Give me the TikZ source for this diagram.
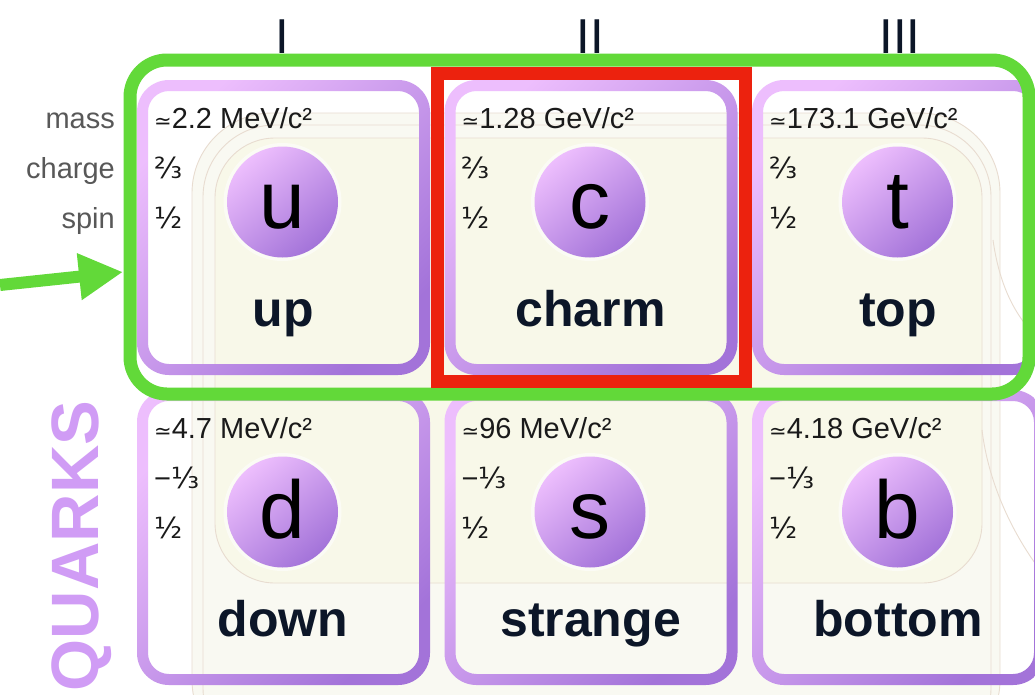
\documentclass[tikz,border=0pt]{standalone}
\usepackage{fontspec}
\setmainfont{Liberation Sans}
\newfontfamily\dv{DejaVu Sans}
\usetikzlibrary{arrows.meta}
\definecolor{grn}{RGB}{98,217,57}
\definecolor{rd}{RGB}{236,34,14}
\definecolor{cardA}{RGB}{237,190,253}
\definecolor{cardB}{RGB}{163,115,217}
\definecolor{navy}{RGB}{12,22,40}
\definecolor{lbl}{RGB}{88,88,88}
\definecolor{valc}{RGB}{26,26,26}
\definecolor{bgA}{RGB}{249,249,242}
\definecolor{bgB}{RGB}{248,248,233}
\definecolor{bgline}{RGB}{232,220,208}
\definecolor{qk}{RGB}{208,156,245}
\newcommand{\eqsym}{{\dv\fontsize{21}{21}\selectfont ≃}}
\newcommand{\frc}[1]{{\dv\fontsize{29}{29}\selectfont #1}}
\tikzset{
  gennum/.style={anchor=base, navy, inner sep=0, font=\fontsize{49}{49}\selectfont},
  rowlbl/.style={anchor=base east, lbl, inner sep=0, font=\fontsize{29}{29}\selectfont},
  massval/.style={anchor=base west, valc, inner sep=0, font=\fontsize{29}{29}\selectfont},
  qnum/.style={anchor=base west, valc, inner sep=0, font=\fontsize{29}{29}\selectfont},
  symb/.style={anchor=base, black, inner sep=0, font=\fontsize{82}{82}\selectfont},
  pname/.style={anchor=base, navy, inner sep=0, font=\bfseries\fontsize{50}{50}\selectfont},
  bgl/.style={draw=bgline, line width=0.9pt},
}
\begin{document}
\begin{tikzpicture}[x=1pt,y=-1pt]
\useasboundingbox (0,0) rectangle (1035,694);
\fill[white] (0,0) rectangle (1035,694);
\begin{scope}
\clip (0,0) rectangle (1035,694);
% faded background of the chart
\filldraw[bgl, fill=bgA] [rounded corners=80pt] (192,113) rectangle (1000,760);
\draw[bgl] [rounded corners=72pt] (203,125) rectangle (991,760);
\filldraw[bgl, fill=bgB] [rounded corners=60pt] (215,138) rectangle (982,583);
\draw[bgl] (993,240) .. controls (1000,290) and (1018,320) .. (1040,340);
\draw[bgl] (982,430) .. controls (988,480) and (1010,530) .. (1040,570);

% cards
\foreach \i/\j/\sym/\nm/\ms/\ch in {0/0/u/up/{2.2 MeV}/{\frc{⅔}}, 1/0/c/charm/{1.28 GeV}/{\frc{⅔}}, 2/0/t/top/{173.1 GeV}/{\frc{⅔}}, 0/1/d/down/{4.7 MeV}/{−\frc{⅓}}, 1/1/s/strange/{96 MeV}/{−\frc{⅓}}, 2/1/b/bottom/{4.18 GeV}/{−\frc{⅓}}}{
  \pgfmathsetmacro\X{137+307.5*\i}
  \pgfmathsetmacro\Y{80+310*\j}
  \shade[even odd rule, top color=cardA, bottom color=cardB, shading angle=45]
    [rounded corners=32pt] (\X,\Y) rectangle ++(293,295)
    [rounded corners=21pt] (\X+11,\Y+11) rectangle ++(271,273);
  \fill[white, opacity=0.55] (\X+145.5,\Y+122) circle[radius=59pt];
  \shade[top color=cardA, bottom color=cardB, shading angle=40] (\X+145.5,\Y+122) circle[radius=55.5pt];
  \node[symb] (sym\i\j) at (\X+145.5,\Y+148) {\sym};
  \node[massval] (mass\i\j) at (\X+17,\Y+48) {\eqsym\ms/c²};
  \node[qnum] (chg\i\j) at (\X+17,\Y+98) {\ch};
  \node[qnum] (spin\i\j) at (\X+17,\Y+148) {\frc{½}};
  \node[pname] (name\i\j) at (\X+146,\Y+246) {\nm};
}

% generation numerals and row labels
\node[gennum] (g1) at (282,53) {I};
\node[gennum] (g2) at (590,53) {II};
\node[gennum] (g3) at (900,53) {III};
\node[rowlbl] (lmass) at (115,128) {mass};
\node[rowlbl] (lcharge) at (115,178) {charge};
\node[rowlbl] (lspin) at (115,228) {spin};
\node[rotate=90, anchor=base, qk, inner sep=0, font=\bfseries\fontsize{67}{67}\selectfont] (quarks) at (98,546) {QUARKS};

% annotations
\node[draw=grn, line width=13pt, rounded corners=37pt, minimum width=899pt, minimum height=334pt, inner sep=0] (genframe) at (579.5,227) {};
\node[draw=rd, line width=13pt, minimum width=307.5pt, minimum height=308pt, inner sep=0] (sel) at (591.25,227.5) {};
\coordinate (atail) at (0,285);
\coordinate (atip) at (123,272);
\draw[grn, line width=12pt, -{Triangle[length=44pt,width=44pt]}] (atail) -- (atip);
\end{scope}
\end{tikzpicture}
\end{document}
